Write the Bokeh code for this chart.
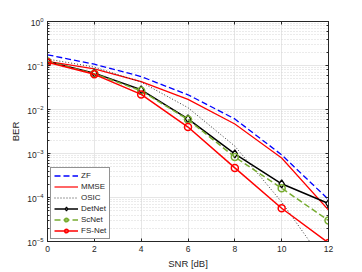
from bokeh.plotting import figure
from bokeh.embed import file_html
from bokeh.resources import INLINE
from bokeh.models import (LinearAxis, LogAxis, Legend, LegendItem, Range1d, FixedTicker,
                          CustomJSTickFormatter)

snr = [0, 2, 4, 6, 8, 10, 12]
zf = [0.175, 0.107, 0.056, 0.0216, 0.0061, 9.3e-4, 9.0e-5]
mmse = [0.124, 0.084, 0.043, 0.017, 0.0047, 7.9e-4, 5.2e-5]
osic = [0.14, 0.092, 0.042, 0.011, 1.47e-3, 7.9e-5, 2.5e-6]
detnet = [0.123, 0.067, 0.028, 0.0061, 9.8e-4, 2.05e-4, 7.3e-5]
scnet = [0.123, 0.065, 0.0266, 0.0059, 8.3e-4, 1.63e-4, 3.0e-5]
fsnet = [0.119, 0.063, 0.022, 0.0040, 4.7e-4, 5.7e-5, 9.3e-6]
x_ticks = [0, 2, 4, 6, 8, 10, 12]

FONT = "Liberation Sans"
TXT = "#262626"
AX = "#262626"

p = figure(width=362, height=272, y_axis_type="log", output_backend="svg",
           toolbar_location=None, x_range=Range1d(0, 12), y_range=Range1d(1e-5, 1),
           min_border_left=47, min_border_right=34, min_border_top=21, min_border_bottom=31)
p.background_fill_color = "white"
p.border_fill_color = "white"
p.outline_line_color = AX
p.outline_line_width = 1

for ax in (p.xaxis[0], p.yaxis[0]):
    ax.major_label_text_font = FONT
    ax.major_label_text_font_size = "8.5px"
    ax.major_label_text_color = TXT
    ax.axis_label_text_font = FONT
    ax.axis_label_text_font_size = "9.5px"
    ax.axis_label_text_font_style = "normal"
    ax.axis_label_text_color = TXT
    ax.axis_line_color = AX
    ax.major_tick_line_color = AX
    ax.minor_tick_line_color = AX
    ax.major_tick_in = 3
    ax.major_tick_out = 0
    ax.minor_tick_in = 2
    ax.minor_tick_out = 0
    ax.major_label_standoff = 4
    ax.axis_label_standoff = 3

p.xaxis[0].axis_label = "SNR [dB]"
p.xaxis[0].ticker = FixedTicker(ticks=x_ticks)
p.yaxis[0].axis_label = "BER"

blank = CustomJSTickFormatter(code="return ''")
top = LinearAxis(ticker=FixedTicker(ticks=x_ticks), formatter=blank,
                 major_tick_in=3, major_tick_out=0, axis_line_color=AX, major_tick_line_color=AX,
                 major_label_standoff=0)
right = LogAxis(formatter=blank, major_tick_in=3, major_tick_out=0,
                minor_tick_in=2, minor_tick_out=0, axis_line_color=AX,
                major_tick_line_color=AX, minor_tick_line_color=AX, major_label_standoff=0)
p.add_layout(top, "above")
p.add_layout(right, "right")

p.xgrid.grid_line_color = "#e6e6e6"
p.xgrid.ticker = FixedTicker(ticks=x_ticks)
p.ygrid.grid_line_color = "#e6e6e6"
p.ygrid.minor_grid_line_color = "#d6d6d6"
p.ygrid.minor_grid_line_dash = "1 2"

r_zf = p.line(snr, zf, line_color="#0000ff", line_dash="6 3", line_width=1.3)
r_mmse = p.line(snr, mmse, line_color="#ff0000", line_width=1.2)
r_osic = p.line(snr, osic, line_color="#222222", line_dash="1 2", line_width=0.9)
r_det = p.line(snr, detnet, line_color="black", line_width=1.5)
m_det = p.scatter(snr, detnet, marker="diamond", size=8, line_color="black", fill_color="white", line_width=1.3)
r_sc = p.line(snr, scnet, line_color="#77ac30", line_dash="6 3", line_width=1.5)
m_sc = p.scatter(snr, scnet, marker="circle", size=7, line_color="#77ac30", fill_color=None, line_width=1.5)
r_fs = p.line(snr, fsnet, line_color="#ff0000", line_width=1.5)
m_fs = p.scatter(snr, fsnet, marker="circle", size=7, line_color="#ff0000", fill_color=None, line_width=1.5)

legend = Legend(items=[
    LegendItem(label="ZF", renderers=[r_zf]),
    LegendItem(label="MMSE", renderers=[r_mmse]),
    LegendItem(label="OSIC", renderers=[r_osic]),
    LegendItem(label="DetNet", renderers=[r_det, m_det]),
    LegendItem(label="ScNet", renderers=[r_sc, m_sc]),
    LegendItem(label="FS-Net", renderers=[r_fs, m_fs]),
], location=(3, 2))
legend.label_text_font = FONT
legend.label_text_font_size = "8px"
legend.label_text_color = TXT
legend.label_text_align = "right"
legend.glyph_width = 24
legend.glyph_height = 9
legend.label_height = 9
legend.spacing = 2
legend.padding = 3
legend.margin = 0
legend.label_standoff = 3
legend.border_line_color = "#262626"
legend.background_fill_alpha = 1
p.add_layout(legend, "center")

open("out.html", "w").write(file_html(p, INLINE))
